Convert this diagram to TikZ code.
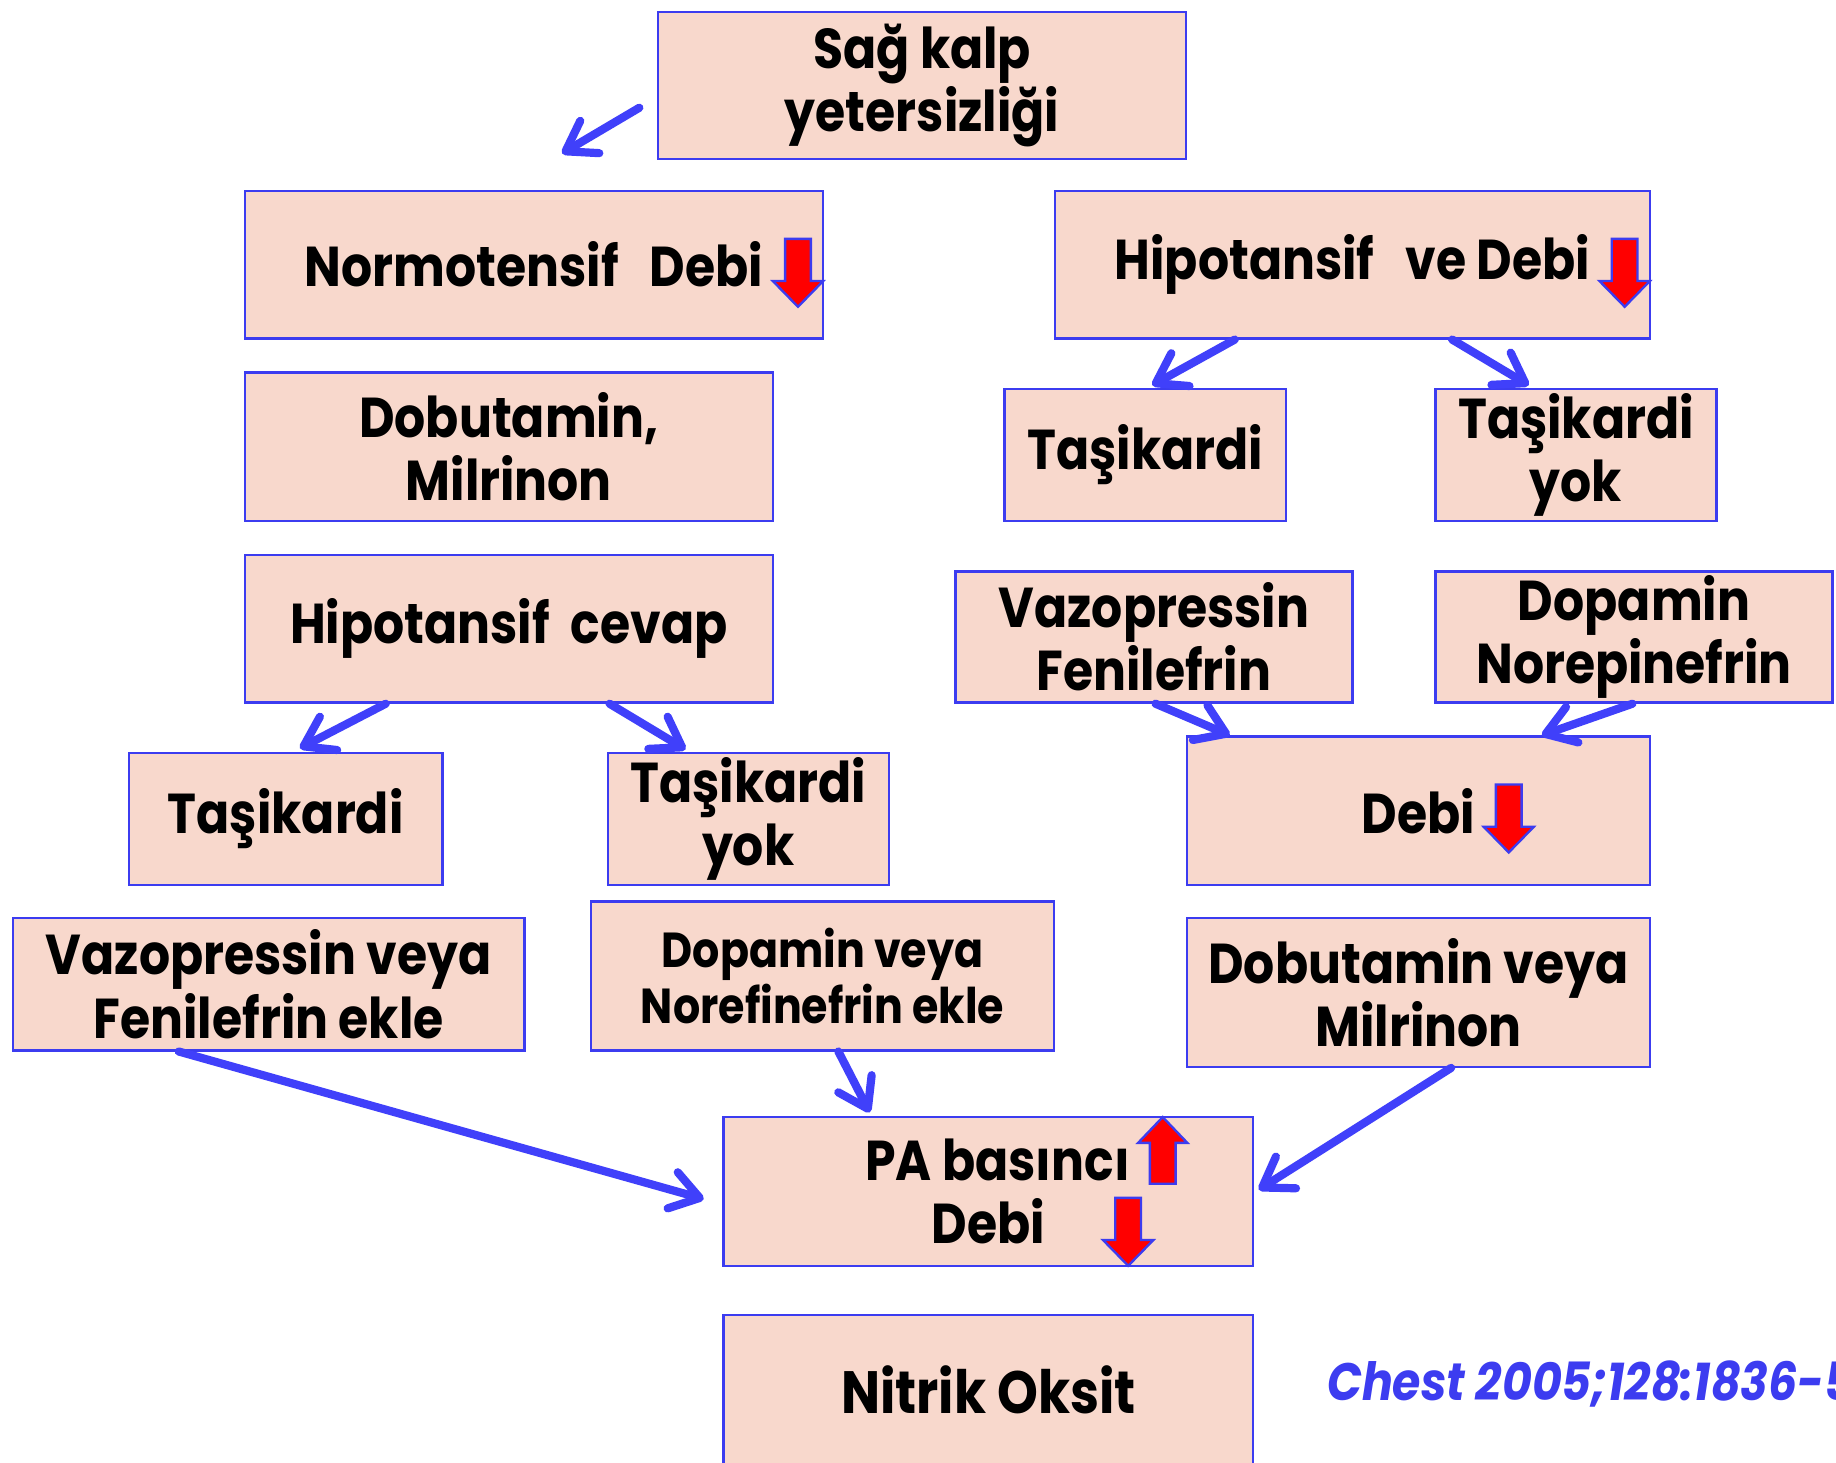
\documentclass[tikz,border=0pt]{standalone}
\usepackage{fontspec}
\setmainfont{Poppins}[FakeStretch=0.87]
\usetikzlibrary{arrows.meta,calc}
\definecolor{bpink}{RGB}{248,216,204}
\definecolor{bblue}{RGB}{60,60,240}
\definecolor{ablue}{RGB}{64,64,250}
\tikzset{
  box/.style={draw=bblue, fill=bpink, line width=1pt, align=center, inner sep=0pt,
    font=\fontsize{24}{27}\selectfont\bfseries},
  conn/.style={draw=ablue, line width=3.5pt, line cap=round,
    -{Straight Barb[length=12pt,width=16pt,line width=3.5pt,round]}},
  redarr/.style={fill=red, draw=bblue, line width=1pt},
  dnarrow/.pic={\path[redarr] (0,0) -- (-21.5,-22) -- (-11,-22) -- (-11,-58) -- (11,-58) -- (11,-22) -- (21.5,-22) -- cycle;},
  uparrow/.pic={\path[redarr] (0,0) -- (-21,22) -- (-11,22) -- (-11,57) -- (11,57) -- (11,22) -- (21,22) -- cycle;}
}
\begin{document}
\begin{tikzpicture}[x=0.5pt,y=-0.5pt]
\clip (0,0) rectangle (1568,1249);
\fill[white] (0,0) rectangle (1568,1249);

\node[box, minimum width=225.5pt, minimum height=63pt] (sag) at (787.5,73) {Sağ kalp\\yetersizliği};
\node[box, minimum width=247pt, minimum height=63pt] (normo) at (456,226) {Normotensif\ \ \ Debi};
\node[box, minimum width=254pt, minimum height=63pt] (hipo) at (1155,226) {Hipotansif\ \ \ ve Debi};
\node[box, minimum width=225.5pt, minimum height=63.5pt] (dobu) at (434.5,381.5) {Dobutamin,\\Milrinon};
\node[box, minimum width=120pt, minimum height=56.5pt] (tasR) at (978,388.5) {Taşikardi};
\node[box, minimum width=120pt, minimum height=56.5pt] (tasyokR) at (1346,388.5) {Taşikardi\\yok};
\node[box, minimum width=225.5pt, minimum height=63pt] (hipocevap) at (434.5,537) {Hipotansif\ \ cevap};
\node[box, minimum width=169.5pt, minimum height=56pt] (vazoR) at (985.5,544) {Vazopressin\\Fenilefrin};
\node[box, minimum width=169.5pt, minimum height=56pt] (dopaR) at (1395.5,544) {Dopamin\\Norepinefrin};
\node[box, minimum width=134pt, minimum height=56.5pt] (tasL) at (244,699.5) {Taşikardi};
\node[box, minimum width=120pt, minimum height=56.5pt] (tasyokL) at (639,699.5) {Taşikardi\\yok};
\node[box, minimum width=197.5pt, minimum height=63.5pt] (debiR) at (1211.5,692.5) {Debi};
\node[box, minimum width=218.5pt, minimum height=56.5pt] (vazoL) at (229.5,840.5) {Vazopressin veya\\Fenilefrin ekle};
\node[box, minimum width=197.5pt, minimum height=63.5pt, font=\fontsize{21}{24}\selectfont\bfseries] (dopaL) at (702.5,833.5) {Dopamin veya\\Norefinefrin ekle};
\node[box, minimum width=197.5pt, minimum height=63.5pt] (dobuR) at (1211.5,847.5) {Dobutamin veya\\Milrinon};
\node[box, minimum width=226pt, minimum height=63.5pt] (pa) at (844,1017.5) {\hspace*{8pt}PA basıncı\\Debi};
\node[box, minimum width=226pt, minimum height=64pt, font=\fontsize{25.5}{28}\selectfont\bfseries] (nitrik) at (844,1187) {Nitrik Oksit};

\node[anchor=base west, inner sep=0pt, text=bblue, font=\fontsize{22.5}{26}\selectfont\bfseries\itshape] (cite) at (1133,1196) {Chest 2005;128:1836-5};

% red block arrows
\pic at (681.5,262) {dnarrow};
\pic at (1387.5,262) {dnarrow};
\pic at (1288.5,728) {dnarrow};
\pic at (993,954) {uparrow};
\pic at (963.5,1081) {dnarrow};

% blue connectors
\coordinate (fa) at ($(sag.west)+(-15,19)$);
\coordinate (fb) at ($(sag.west)+(-81,58)$);
\draw[conn] (fa) -- (fb);
\draw[conn] ($(hipo.south west)!0.303!(hipo.south east)$) -- ($(tasR.north west)!0.525!(tasR.north east)+(0,-2)$);
\draw[conn] ($(hipo.south west)!0.667!(hipo.south east)$) -- ($(tasyokR.north west)!0.333!(tasyokR.north east)+(0,-2)$);
\draw[conn] ($(hipocevap.south west)!0.268!(hipocevap.south east)$) -- ($(tasL.north west)!0.545!(tasL.north east)+(0,-3)$);
\draw[conn] ($(hipocevap.south west)!0.69!(hipocevap.south east)$) -- ($(tasyokL.north west)!0.279!(tasyokL.north east)+(0,-2)$);
\draw[conn] ($(vazoR.south west)!0.504!(vazoR.south east)$) -- ($(debiR.north west)!0.094!(debiR.north east)$);
\draw[conn] ($(dopaR.south west)!0.496!(dopaR.south east)$) -- ($(debiR.north west)!0.765!(debiR.north east)$);
\draw[conn] ($(vazoL.south west)!0.325!(vazoL.south east)$) -- ($(pa.west)+(-16,6.5)$);
\draw[conn] ($(dopaL.south west)!0.534!(dopaL.south east)$) -- ($(pa.north west)!0.277!(pa.north east)+(0,-3)$);
\draw[conn] ($(dobuR.south west)!0.57!(dobuR.south east)$) -- ($(pa.east)+(4,-1.5)$);
\end{tikzpicture}
\end{document}
